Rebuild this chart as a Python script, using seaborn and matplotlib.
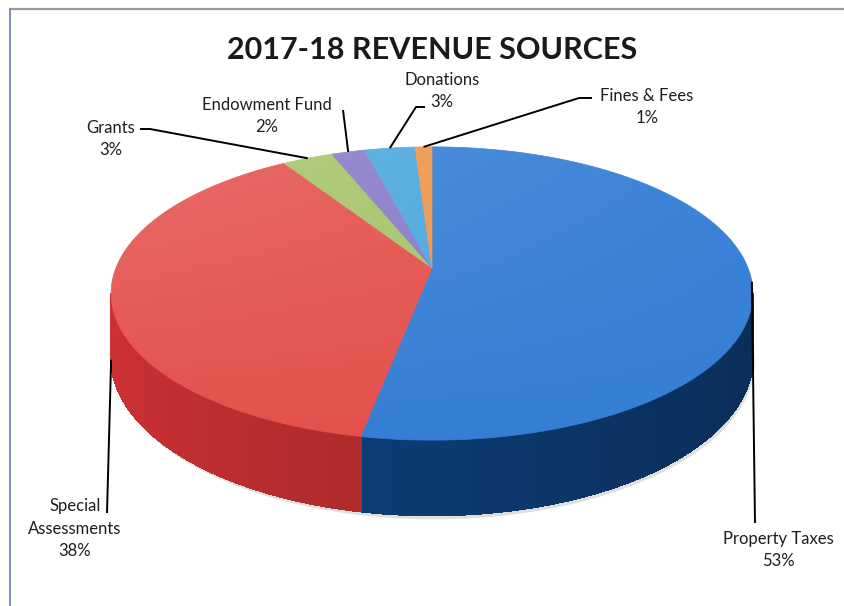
import numpy as np
import matplotlib
matplotlib.use("Agg")
import matplotlib.pyplot as plt
from matplotlib.patches import Polygon
from matplotlib.collections import PolyCollection
from matplotlib.colors import to_rgb
import seaborn as sns

# ---- data -------------------------------------------------------------
categories = ["Property Taxes", "Special\nAssessments", "Grants",
              "Endowment Fund", "Donations", "Fines & Fees"]
shares = [53, 38, 3, 2, 3, 1]
title = "2017-18 REVENUE SOURCES"

# ---- style ------------------------------------------------------------
sns.set_theme(style="white")
plt.rcParams["font.family"] = ["Lato", "DejaVu Sans"]

top_colors = sns.color_palette(["#357ed6", "#e4514c", "#a5c46a",
                                "#8a7bc8", "#4ba8dc", "#f0954a"])
side_colors = sns.color_palette(["#0c3a70", "#a8282a", "#7c9a48",
                                 "#62559a", "#2f82b0", "#c87030"])

W, H = 844, 606
fig = plt.figure(figsize=(W / 100, H / 100), dpi=100)
ax = fig.add_axes([0, 0, 1, 1])
ax.set_xlim(0, W)
ax.set_ylim(H, 0)
ax.axis("off")

# ---- perspective projection of a flat cylinder ------------------------
CX, CY = 432.0, 268.0     # projected pie centre
S = 316.0                 # radius scale
SIN_E = 0.45              # camera elevation
COS_E = np.sqrt(1 - SIN_E ** 2)
P = 0.174                 # perspective strength
DEPTH = 0.22              # pie thickness (unit radius)


def project(t_deg, z=0.0):
    t = np.radians(t_deg)
    k = 1 + P * np.sin(t)
    x = CX + S * np.cos(t) / k
    y = CY - S * (SIN_E * np.sin(t) + COS_E * z) / k
    return x, y


fractions = np.array(shares, dtype=float) / sum(shares)
cum = np.concatenate([[0], np.cumsum(fractions)])
starts = 90 - 360 * cum[:-1]
ends = 90 - 360 * cum[1:]

# soft shadow under the base
tt = np.linspace(0, 360, 400)
bx, by = project(tt, -DEPTH)
ax.add_patch(Polygon(np.column_stack([bx + 2, by + 4]), closed=True,
                     facecolor="#b8b8b8", edgecolor="none", alpha=0.45,
                     zorder=1))

# ---- side walls (front-facing part only) ------------------------------
quads, qcols = [], []
for i in range(len(shares)):
    n = max(int(abs(starts[i] - ends[i]) * 2), 4)
    ts = np.linspace(starts[i], ends[i], n + 1)
    for a, b in zip(ts[:-1], ts[1:]):
        mid = np.radians((a + b) / 2)
        if np.sin(mid) > -P:
            continue
        x1, y1 = project(a)
        x2, y2 = project(b)
        x3, y3 = project(b, -DEPTH)
        x4, y4 = project(a, -DEPTH)
        quads.append([(x1, y1), (x2, y2), (x3, y3), (x4, y4)])
        shade = 1 + 0.22 * (-np.cos(mid))
        c = np.clip(np.array(to_rgb(side_colors[i])) * shade, 0, 1)
        qcols.append(c)
ax.add_collection(PolyCollection(quads, facecolors=qcols, edgecolors=qcols,
                                 linewidths=0.8, antialiased=False, zorder=2))

# ---- top faces --------------------------------------------------------
for i in range(len(shares)):
    ts = np.linspace(starts[i], ends[i], max(int(abs(starts[i] - ends[i]) * 2), 4))
    rx, ry = project(ts)
    pts = np.column_stack([np.r_[CX, rx], np.r_[CY, ry]])
    ax.add_patch(Polygon(pts, closed=True, facecolor=top_colors[i],
                         edgecolor=top_colors[i], linewidth=0.5, zorder=3))

# light sheen over the top surface
ox, oy = project(tt)
outline = Polygon(np.column_stack([ox, oy]), closed=True,
                  facecolor="none", edgecolor="none", zorder=4)
ax.add_patch(outline)
x0, x1, y0, y1 = ox.min(), ox.max(), oy.min(), oy.max()
gy, gx = np.mgrid[0:1:200j, 0:1:300j]
sheen = np.zeros((200, 300, 4))
sheen[..., :3] = 1.0
sheen[..., 3] = 0.16 * (1 - gy) * (1 - 0.75 * gx)
im = ax.imshow(sheen, extent=(x0, x1, y1, y0), origin="upper",
               interpolation="bilinear", zorder=4, aspect="auto")
im.set_clip_path(outline)

# ---- labels with leader lines -----------------------------------------
mids = (starts + ends) / 2
anchor_z = [0.0, -DEPTH, 0.0, 0.0, 0.0, 0.0]
label_pos = [(778, 550), (75, 529), (111, 139), (267, 116), (442, 91), (647, 107)]
leader_tail = [
    [(755, 523)],
    [(107, 513)],
    [(150, 129), (140, 129)],
    [(343, 110)],
    [(416, 107), (425, 107)],
    [(579, 98), (592, 98)],
]
for i, name in enumerate(categories):
    axx, axy = project(mids[i], anchor_z[i])
    path = [(axx, axy)] + leader_tail[i]
    xs, ys = zip(*path)
    ax.plot(xs, ys, color="black", linewidth=1.4, zorder=5,
            solid_capstyle="butt")
    ax.text(label_pos[i][0], label_pos[i][1], f"{name}\n{shares[i]}%",
            ha="center", va="center", fontsize=12, color="#1e1e1e",
            linespacing=1.5, zorder=6)

ax.text(432, 50, title, ha="center", va="center", fontsize=22,
        fontweight="bold", color="#1a1a1a", zorder=6)

# ---- chart frame ------------------------------------------------------
ax.plot([10, W], [9, 9], color="#9a9a9a", linewidth=1.6, zorder=7)
ax.plot([10, 10], [9, H], color="#7088b0", linewidth=1.3, zorder=7)

fig.savefig("out.png", dpi=100, facecolor="white")
